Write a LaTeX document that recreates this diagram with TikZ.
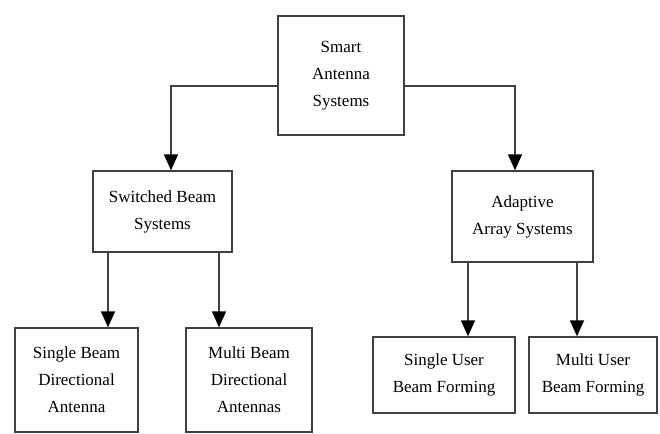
\documentclass[tikz,border=0pt]{standalone}
\usepackage{fontspec}
\setmainfont{Liberation Serif}
\usetikzlibrary{arrows.meta}
\begin{document}
\begin{tikzpicture}[x=1pt, y=-1pt,
    box/.style={draw=black!75, line width=1.3pt, rectangle, align=center,
      text=black, font=\fontsize{17}{27}\selectfont, inner sep=0pt},
    arr/.style={draw=black!75, line width=1.3pt, -{Triangle[width=14pt,length=16pt,black]}}]
    \useasboundingbox (0,0) rectangle (660,433);
    \node[box, minimum width=126pt, minimum height=119pt] (sas) at (341,75.5) {Smart\\Antenna\\Systems};
    \node[box, minimum width=139pt, minimum height=81pt] (sbs) at (162.5,211.5) {Switched Beam\\Systems};
    \node[box, minimum width=141pt, minimum height=91pt] (aas) at (522.5,216.5) {Adaptive\\Array Systems};
    \node[box, minimum width=123pt, minimum height=104pt] (sbd) at (76.5,380) {Single Beam\\Directional\\Antenna};
    \node[box, minimum width=126pt, minimum height=104pt] (mbd) at (249,380) {Multi Beam\\Directional\\Antennas};
    \node[box, minimum width=142pt, minimum height=76pt] (sub) at (444,375) {Single User\\Beam Forming};
    \node[box, minimum width=128pt, minimum height=76pt] (mub) at (593,375) {Multi User\\Beam Forming};
    \coordinate (jl) at (171,86);
    \coordinate (jr) at (515,86);
    \coordinate (a1) at (108,0);
    \coordinate (a2) at (219,0);
    \coordinate (a3) at (468,0);
    \coordinate (a4) at (577,0);
    \draw[arr] (jl -| sas.west) -| (jl |- sbs.north);
    \draw[arr] (jr -| sas.east) -| (jr |- aas.north);
    \draw[arr] (a1 |- sbs.south) -- (a1 |- sbd.north);
    \draw[arr] (a2 |- sbs.south) -- (a2 |- mbd.north);
    \draw[arr] (a3 |- aas.south) -- (a3 |- sub.north);
    \draw[arr] (a4 |- aas.south) -- (a4 |- mub.north);
\end{tikzpicture}
\end{document}
